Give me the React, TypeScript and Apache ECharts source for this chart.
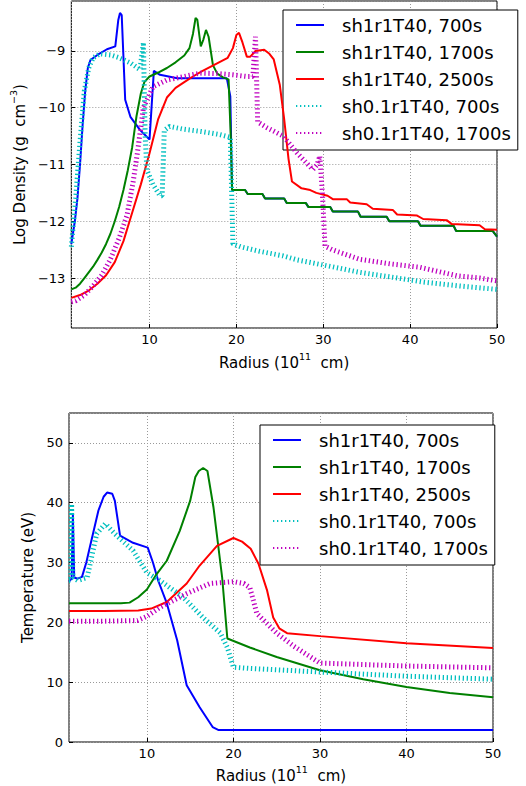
import React, { useEffect, useRef } from "react";
import * as echarts from "echarts";

const seriesNames = [
  "sh1r1T40, 700s",
  "sh1r1T40, 1700s",
  "sh1r1T40, 2500s",
  "sh0.1r1T40, 700s",
  "sh0.1r1T40, 1700s",
];
const seriesColors = ["#0000ff", "#008000", "#ff0000", "#00bfbf", "#bf00bf"];
const dottedSeries = [false, false, false, true, true];

// Staircase of the outer envelope (shared by sh1 700s and 1700s)
const densStairs: number[][] = [
  [19.5, -11.45], [21.0, -11.45], [21.3, -11.52], [23.0, -11.52], [23.3, -11.6], [25.5, -11.6],
  [25.8, -11.68], [28.0, -11.68], [28.3, -11.75], [30.8, -11.75], [31.1, -11.83], [34.0, -11.83],
  [34.3, -11.92], [37.3, -11.92], [37.6, -12.0], [40.9, -12.0], [41.2, -12.08], [45.0, -12.08],
  [45.3, -12.17], [49.5, -12.17], [50.0, -12.27],
];

const densSh1_700: number[][] = [
  [1.0, -12.4], [1.4, -12.0], [1.7, -11.6], [2.0, -11.0], [2.3, -10.3], [2.6, -9.7], [2.9, -9.3],
  [3.2, -9.16], [4.0, -9.07], [5.1, -8.97], [6.06, -8.92], [6.4, -8.46], [6.6, -8.33], [6.8, -8.37],
  [7.2, -9.86], [7.8, -10.16], [8.9, -10.39], [10.0, -10.56], [10.5, -9.35], [11.2, -9.42],
  [13.2, -9.48], [18.9, -9.48], [19.3, -9.8], ...densStairs,
];

const densSh1_1700: number[][] = [
  [1.0, -13.2], [1.5, -13.17], [2.0, -13.1], [2.5, -13.0], [3.0, -12.9], [3.5, -12.8], [4.0, -12.68],
  [4.5, -12.55], [5.0, -12.4], [5.5, -12.22], [6.0, -12.0], [6.5, -11.75], [7.0, -11.45], [7.5, -11.1],
  [8.0, -10.7], [8.5, -10.15], [9.0, -9.75], [9.4, -9.55], [10.0, -9.45], [11.0, -9.38], [12.0, -9.3],
  [13.0, -9.2], [14.0, -9.08], [14.6, -8.95], [15.0, -8.7], [15.3, -8.42], [15.5, -8.45], [15.9, -8.92],
  [16.2, -8.8], [16.5, -8.63], [16.8, -8.75], [17.3, -9.25], [17.8, -9.4], [18.5, -9.47], [19.1, -9.5],
  [19.35, -10.5], ...densStairs,
];

const densSh1_2500: number[][] = [
  [1.0, -13.35], [2.0, -13.3], [3.0, -13.22], [4.0, -13.1], [5.0, -12.95], [6.0, -12.72], [7.0, -12.35],
  [8.0, -11.85], [9.0, -11.35], [10.0, -10.8], [11.0, -10.2], [12.0, -9.82], [13.0, -9.65], [14.0, -9.55],
  [15.0, -9.45], [16.0, -9.36], [17.0, -9.28], [18.0, -9.2], [19.0, -9.12], [19.6, -8.95], [20.0, -8.72],
  [20.3, -8.68], [20.7, -8.85], [21.2, -9.1], [21.6, -9.1], [22.2, -9.0], [23.2, -8.98], [23.8, -9.05],
  [24.3, -9.15], [25.0, -9.6], [25.5, -10.2], [26.0, -10.9], [26.4, -11.3], [27.5, -11.42], [28.5, -11.45],
  [29.2, -11.5], [30.5, -11.55], [31.1, -11.61], [32.7, -11.61], [33.1, -11.67], [35.0, -11.7],
  [35.7, -11.78], [38.0, -11.8], [38.5, -11.88], [40.8, -11.9], [41.5, -11.96], [44.2, -11.98],
  [44.8, -12.05], [48.0, -12.07], [48.6, -12.14], [50.0, -12.15],
];

const densSh01_700: number[][] = [
  [1.0, -12.45], [1.5, -11.6], [2.0, -10.6], [2.5, -9.7], [3.0, -9.3], [3.5, -9.12], [4.3, -9.05],
  [5.5, -9.07], [6.5, -9.12], [7.8, -9.21], [8.9, -9.33], [9.3, -8.85], [9.5, -10.5], [9.7, -11.1],
  [10.4, -11.35], [11.2, -11.55], [11.45, -11.55], [11.7, -10.4], [12.3, -10.33], [14.0, -10.38],
  [16.0, -10.42], [18.0, -10.47], [19.3, -10.52], [19.6, -12.4], [20.5, -12.45], [22.7, -12.53],
  [25.4, -12.61], [27.0, -12.68], [29.3, -12.75], [31.0, -12.8], [34.2, -12.9], [37.7, -12.98],
  [41.5, -13.07], [45.7, -13.14], [50.0, -13.2],
];

const densSh01_1700: number[][] = [
  [1.0, -13.42], [1.5, -13.4], [2.5, -13.3], [3.5, -13.14], [4.5, -12.95], [5.5, -12.67], [6.5, -12.3],
  [7.4, -11.9], [8.1, -11.32], [8.6, -10.8], [9.3, -10.0], [10.4, -9.63], [12.0, -9.51], [14.0, -9.45],
  [15.8, -9.39], [18.0, -9.4], [19.6, -9.42], [21.2, -9.45], [21.9, -9.45], [22.2, -8.75], [22.45, -10.25],
  [23.5, -10.35], [25.4, -10.5], [27.0, -10.8], [28.8, -11.09], [29.3, -11.0], [29.6, -10.85],
  [29.9, -11.5], [30.2, -12.44], [31.0, -12.5], [34.2, -12.67], [37.7, -12.75], [41.1, -12.81],
  [45.4, -12.96], [48.0, -13.0], [50.0, -13.05],
];

const tempSh1_700: number[][] = [
  [1.0, 26.8], [1.3, 27.3], [1.45, 38.0], [1.6, 27.5], [2.0, 27.3], [2.5, 27.6], [3.0, 30.0], [3.4, 32.5],
  [4.4, 38.7], [5.0, 41.0], [5.4, 41.7], [6.0, 41.5], [6.3, 40.3], [6.9, 34.5], [8.4, 33.3], [10.1, 32.5],
  [10.7, 30.0], [11.3, 27.0], [12.3, 23.2], [13.5, 17.0], [14.6, 9.5], [16.1, 5.8], [17.6, 2.5],
  [18.3, 2.0], [50.0, 2.0],
];

const tempSh1_1700: number[][] = [
  [1.0, 23.2], [4.0, 23.2], [7.0, 23.2], [8.0, 23.3], [9.0, 24.2], [10.0, 25.5], [11.0, 27.8],
  [12.3, 30.3], [13.8, 35.3], [15.0, 40.3], [15.6, 44.3], [16.0, 45.3], [16.5, 45.8], [17.0, 45.3],
  [17.7, 39.2], [18.7, 27.5], [19.3, 17.3], [21.9, 15.8], [25.0, 14.2], [30.0, 12.0], [35.0, 10.5],
  [40.0, 9.2], [45.0, 8.2], [50.0, 7.5],
];

const tempSh1_2500: number[][] = [
  [1.0, 21.9], [5.0, 21.9], [9.0, 22.0], [10.5, 22.3], [12.3, 23.4], [14.6, 26.5], [16.1, 29.5],
  [18.1, 32.8], [20.0, 34.1], [21.0, 33.5], [22.0, 32.3], [22.9, 29.8], [23.9, 25.3], [24.6, 20.8],
  [25.3, 19.0], [26.2, 18.2], [30.0, 17.7], [40.0, 16.5], [50.0, 15.7],
];

const tempSh01_700: number[][] = [
  [1.0, 27.0], [1.2, 27.0], [1.3, 39.8], [1.45, 27.5], [2.0, 27.0], [3.1, 27.5], [4.2, 34.8],
  [5.2, 36.5], [6.3, 34.8], [8.4, 32.0], [10.0, 28.3], [11.5, 27.0], [14.2, 24.2], [16.5, 20.8],
  [18.5, 18.2], [19.3, 15.8], [20.0, 12.5], [21.9, 12.3], [30.0, 11.7], [40.0, 11.0], [50.0, 10.5],
];

const tempSh01_1700: number[][] = [
  [1.0, 20.2], [5.0, 20.2], [8.9, 20.3], [10.0, 21.0], [11.5, 22.5], [14.6, 24.8], [17.3, 26.5],
  [20.0, 26.8], [21.2, 26.5], [21.9, 25.8], [22.3, 23.7], [22.7, 21.5], [25.0, 18.2], [27.0, 16.0],
  [30.0, 13.2], [40.0, 12.7], [50.0, 12.4],
];

const densityData = [densSh1_700, densSh1_1700, densSh1_2500, densSh01_700, densSh01_1700];
const tempData = [tempSh1_700, tempSh1_1700, tempSh1_2500, tempSh01_700, tempSh01_1700];

const FONT = "DejaVu Sans";

const intLabel = (v: number) =>
  Math.abs(v - Math.round(v)) < 1e-6 ? String(Math.round(v)).replace("-", "\u2212") : "";

const richName = {
  n: { fontSize: 15, fontFamily: FONT, color: "#000", verticalAlign: "bottom", lineHeight: 19 },
  sup: { fontSize: 9.5, fontFamily: FONT, color: "#000", verticalAlign: "top", lineHeight: 19 },
};

function makeX(gridIndex: number, gap: number) {
  return {
    type: "value",
    gridIndex,
    min: 1,
    max: 50,
    splitNumber: 5,
    name: "{n|Radius (10}{sup|11}{n|  cm)}",
    nameLocation: "middle",
    nameGap: gap,
    nameTextStyle: { rich: richName },
    axisLine: { show: false },
    axisTick: { show: true, inside: true, length: 4, lineStyle: { color: "#000" } },
    axisLabel: {
      showMinLabel: false,
      formatter: intLabel,
      fontSize: 13,
      fontFamily: FONT,
      color: "#000",
      margin: 5,
    },
    splitLine: { show: true, lineStyle: { color: "#999", type: [1, 2], width: 1 } },
  };
}

function makeY(gridIndex: number, min: number, max: number, name: string, gap: number) {
  return {
    type: "value",
    gridIndex,
    min,
    max,
    splitNumber: 5,
    name,
    nameLocation: "middle",
    nameGap: gap,
    nameRotate: 90,
    nameTextStyle: { rich: richName },
    axisLine: { show: false },
    axisTick: { show: true, inside: true, length: 4, lineStyle: { color: "#000" } },
    axisLabel: {
      showMinLabel: gridIndex === 1,
      showMaxLabel: false,
      formatter: intLabel,
      fontSize: 13,
      fontFamily: FONT,
      color: "#000",
      margin: 6,
    },
    splitLine: { show: true, lineStyle: { color: "#999", type: [1, 2], width: 1 } },
  };
}

function makeLegend(left: number, top: number) {
  return {
    data: seriesNames,
    orient: "vertical",
    left,
    top,
    backgroundColor: "#fff",
    borderColor: "#000",
    borderWidth: 1,
    padding: [5, 7, 7, 12],
    itemWidth: 28,
    itemHeight: 14,
    itemGap: 7,
    selectedMode: false,
    itemStyle: { opacity: 0, borderWidth: 0 },
    textStyle: {
      fontSize: 18,
      fontFamily: FONT,
      color: "#000",
      lineHeight: 20,
      padding: [0, 0, 0, 13],
    },
  };
}

function makeSeries(data: number[][][], idx: number) {
  return seriesNames.map((name, i) => ({
    type: "line",
    name,
    xAxisIndex: idx,
    yAxisIndex: idx,
    data: data[i],
    showSymbol: false,
    symbol: "none",
    smooth: false,
    color: seriesColors[i],
    lineStyle: dottedSeries[i]
      ? { color: seriesColors[i], width: 5, type: [1.3, 2.7], cap: "butt" }
      : { color: seriesColors[i], width: 2 },
    z: 2 + i,
  }));
}

export default function App() {
  const ref = useRef<HTMLDivElement>(null);
  useEffect(() => {
    if (!ref.current) return;
    const chart = echarts.init(ref.current, undefined, { renderer: "svg" });
    chart.setOption({
      animation: false,
      backgroundColor: "#fff",
      textStyle: { fontFamily: FONT },
      grid: [
        { left: 71, top: 1, width: 426, height: 327, show: true, borderColor: "#000", borderWidth: 1, backgroundColor: "transparent" },
        { left: 69, top: 413, width: 424, height: 329, show: true, borderColor: "#000", borderWidth: 1, backgroundColor: "transparent" },
      ],
      xAxis: [makeX(0, 23), makeX(1, 22)],
      yAxis: [
        makeY(0, -13.88, -8.12, "{n|Log Density (g  cm}{sup|\u22123}{n|)}", 38),
        makeY(1, 0, 55, "{n|Temperature (eV)}", 27),
      ],
      legend: [makeLegend(283, 10), makeLegend(260, 425)],
      series: [...makeSeries(densityData, 0), ...makeSeries(tempData, 1)],
    });
    return () => chart.dispose();
  }, []);
  return (
    <div
      ref={ref}
      style={{ position: "fixed", left: 0, top: 0, width: 526, height: 786, background: "#fff" }}
    />
  );
}
